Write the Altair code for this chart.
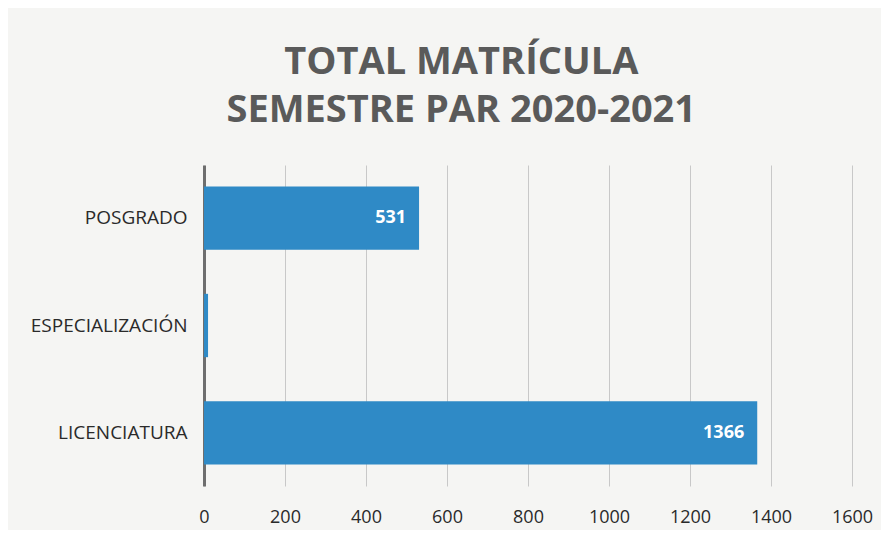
import altair as alt
import pandas as pd

categories = ["POSGRADO", "ESPECIALIZACIÓN", "LICENCIATURA"]
values = [531, 10, 1366]
labels = ["531", "", "1366"]
x_ticks = [0, 200, 400, 600, 800, 1000, 1200, 1400, 1600]

df = pd.DataFrame({"nivel": categories, "total": values, "label": labels})

y_enc = alt.Y("nivel:N", sort=categories, title=None,
              scale=alt.Scale(paddingInner=0.41, paddingOuter=0.2),
              axis=alt.Axis(labelFontSize=19, labelColor="#2a2a2a", labelFont="Open Sans",
                            ticks=False, labelPadding=17, domainColor="#6e6e6e",
                            domainWidth=3, minExtent=196, maxExtent=196))
x_enc = alt.X("total:Q", title=None,
              scale=alt.Scale(domain=[0, 1600], nice=False),
              axis=alt.Axis(values=x_ticks, format="d", labelFontSize=18, labelColor="#2a2a2a",
                            labelFont="Open Sans", ticks=False, domain=False,
                            grid=True, gridColor="#c8c8c8", gridWidth=1,
                            labelPadding=22, labelFlush=False))

bars = alt.Chart(df).mark_bar(color="#2f8ac6").encode(x=x_enc, y=y_enc)
text = alt.Chart(df).mark_text(align="right", dx=-13, color="white", fontSize=18,
                               fontWeight="bold", font="Open Sans").encode(
    x="total:Q", y=alt.Y("nivel:N", sort=categories), text="label:N")

chart = (bars + text).properties(
    width=648, height=321,
    padding={"left": 0, "top": 36, "right": 8, "bottom": 4},
    background="#f5f5f3",
    title=alt.TitleParams(["TOTAL MATRÍCULA", "SEMESTRE PAR 2020-2021"],
                          fontSize=38, font="Open Sans", fontWeight="bold",
                          color="#5a5a5a", lineHeight=48, offset=35,
                          anchor="middle", frame="bounds", dx=21)
).configure_view(stroke=None)

chart.save("out.html", embed_options={"renderer": "svg", "actions": False})
